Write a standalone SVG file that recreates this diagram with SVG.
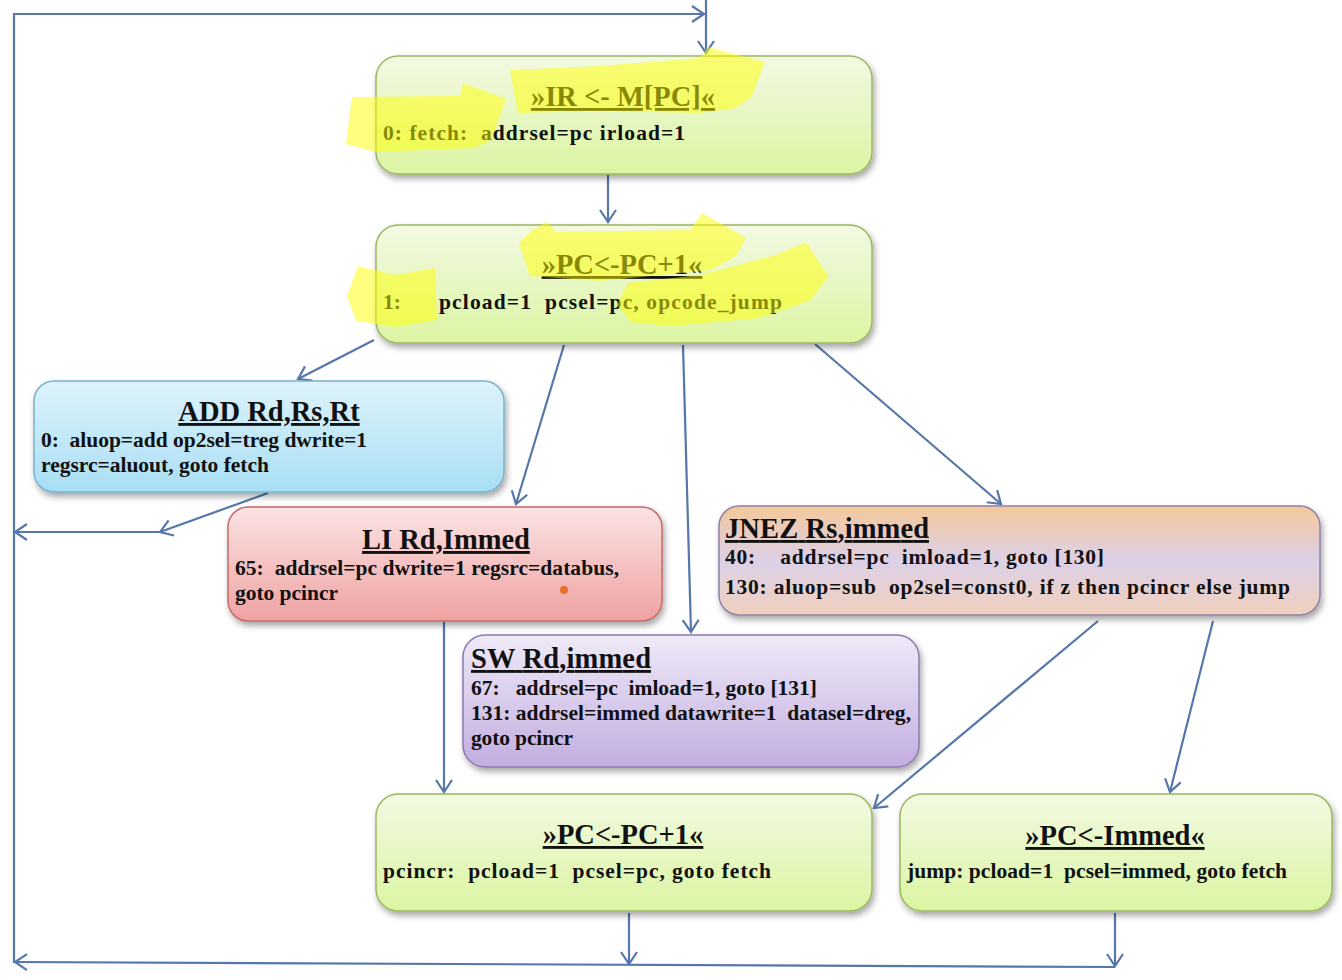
<svg xmlns="http://www.w3.org/2000/svg" width="1342" height="980" viewBox="0 0 1342 980">
<style>
.t{font-family:"Liberation Serif","Times New Roman",serif;font-weight:bold;fill:#111;white-space:pre}
.ti{font-size:28.5px;text-decoration:underline}
.b{font-size:21.5px}
.c{stroke:#5577aa;stroke-width:2.2;fill:none}
.hl{fill:#ffff00;opacity:0.5}
</style>
<defs>
<marker id="ah" markerUnits="userSpaceOnUse" markerWidth="16" markerHeight="20" refX="13" refY="9" orient="auto">
<path d="M1,1 L13,9 L1,17" fill="none" stroke="#5577aa" stroke-width="2.2"/>
</marker>
<filter id="sh" x="-10%" y="-10%" width="120%" height="130%">
<feDropShadow dx="2" dy="4" stdDeviation="3" flood-color="#000" flood-opacity="0.35"/>
</filter>
<linearGradient id="gG" x1="0" y1="0" x2="0" y2="1"><stop offset="0" stop-color="#f3f9e3"/><stop offset="1" stop-color="#dbf5a2"/></linearGradient>
<linearGradient id="gB" x1="0" y1="0" x2="0" y2="1"><stop offset="0" stop-color="#def3fb"/><stop offset="1" stop-color="#a8def4"/></linearGradient>
<linearGradient id="gR" x1="0" y1="0" x2="0" y2="1"><stop offset="0" stop-color="#fbe3e3"/><stop offset="1" stop-color="#efa2a2"/></linearGradient>
<linearGradient id="gO" x1="0" y1="0" x2="0" y2="1"><stop offset="0" stop-color="#f4c899"/><stop offset="0.5" stop-color="#dcd0e8"/><stop offset="1" stop-color="#f1d0bd"/></linearGradient>
<linearGradient id="gP" x1="0" y1="0" x2="0" y2="1"><stop offset="0" stop-color="#efeaf8"/><stop offset="1" stop-color="#c2ade0"/></linearGradient>
</defs>
<rect width="1342" height="980" fill="#fff"/>

<g id="connectors">
<polyline class="c" points="14,963 14,14 704,14" marker-end="url(#ah)"/>
<line class="c" x1="706" y1="0" x2="706" y2="53" marker-end="url(#ah)"/>
<line class="c" x1="608" y1="175" x2="608" y2="222" marker-end="url(#ah)"/>
<line class="c" x1="374" y1="340" x2="298" y2="379" marker-end="url(#ah)"/>
<line class="c" x1="564" y1="345" x2="516" y2="504" marker-end="url(#ah)"/>
<line class="c" x1="683" y1="345" x2="691" y2="632" marker-end="url(#ah)"/>
<line class="c" x1="815" y1="344" x2="1001" y2="504" marker-end="url(#ah)"/>
<line class="c" x1="268" y1="493" x2="160" y2="532" marker-end="url(#ah)"/>
<line class="c" x1="160" y1="532" x2="15" y2="532" marker-end="url(#ah)"/>
<line class="c" x1="444" y1="622" x2="444" y2="792" marker-end="url(#ah)"/>
<line class="c" x1="1098" y1="621" x2="874" y2="808" marker-end="url(#ah)"/>
<line class="c" x1="1213" y1="621" x2="1170" y2="792" marker-end="url(#ah)"/>
<line class="c" x1="629" y1="913" x2="629" y2="964" marker-end="url(#ah)"/>
<line class="c" x1="1115" y1="913" x2="1115" y2="966" marker-end="url(#ah)"/>
<line class="c" x1="1115" y1="967" x2="15" y2="962" marker-end="url(#ah)"/>
</g>

<g id="fetch">
<rect x="376" y="56" width="496" height="118" rx="22" fill="url(#gG)" stroke="#9cb760" stroke-width="1.5" filter="url(#sh)"/>
<text class="t ti" x="623" y="106" text-anchor="middle">»IR &lt;- M[PC]«</text>
<text class="t b" x="383" y="140" textLength="302">0: fetch:  addrsel=pc irload=1</text>
<path class="hl" d="M510,70 L600,66 L700,58 L708,47 L765,62 L752,96 L736,108 L700,113 L600,111 L518,113 Z"/>
<path class="hl" d="M352,97 L460,96 L463,83 L506,99 L491,140 L474,148 L376,152 L346,144 Z"/>
</g>

<g id="pcinc1">
<rect x="376" y="225" width="496" height="118" rx="22" fill="url(#gG)" stroke="#9cb760" stroke-width="1.5" filter="url(#sh)"/>
<text class="t ti" x="622" y="274" text-anchor="middle">»PC&lt;-PC+1«</text>
<text class="t b" x="383" y="309">1:</text>
<text class="t b" x="439" y="309" textLength="343">pcload=1  pcsel=pc, opcode_jump</text>
<path class="hl" d="M519,243 L531,231 L547,222 L556,232 L690,230 L702,213 L746,238 L736,256 L711,270 L600,281 L530,276 Z"/>
<path class="hl" d="M628,283 L700,275 L776,255 L806,242 L828,276 L811,300 L760,318 L670,326 L631,322 L617,305 Z"/>
<path class="hl" d="M358,266 L395,275 L435,268 L437,320 L396,327 L356,321 L347,296 Z"/>
</g>

<g id="add">
<rect x="34" y="381" width="470" height="111" rx="20" fill="url(#gB)" stroke="#7ab3c9" stroke-width="1.5" filter="url(#sh)"/>
<text class="t ti" x="269" y="421" text-anchor="middle">ADD Rd,Rs,Rt</text>
<text class="t b" x="41" y="447" textLength="326">0:  aluop=add op2sel=treg dwrite=1</text>
<text class="t b" x="41" y="472" textLength="228">regsrc=aluout, goto fetch</text>
</g>

<g id="li">
<rect x="228" y="507" width="434" height="114" rx="20" fill="url(#gR)" stroke="#c46a6a" stroke-width="1.5" filter="url(#sh)"/>
<text class="t ti" x="446" y="549" text-anchor="middle">LI Rd,Immed</text>
<text class="t b" x="235" y="575" textLength="384">65:  addrsel=pc dwrite=1 regsrc=databus,</text>
<text class="t b" x="235" y="600" textLength="103">goto pcincr</text>
<circle cx="564" cy="590" r="4" fill="#e8702a"/>
</g>

<g id="jnez">
<rect x="719" y="506" width="601" height="109" rx="20" fill="url(#gO)" stroke="#9080a8" stroke-width="1.5" filter="url(#sh)"/>
<text class="t ti" x="725" y="538" textLength="204">JNEZ Rs,immed</text>
<text class="t b" x="725" y="564" textLength="379">40:    addrsel=pc  imload=1, goto [130]</text>
<text class="t b" x="725" y="594" textLength="565">130: aluop=sub  op2sel=const0, if z then pcincr else jump</text>
</g>

<g id="sw">
<rect x="463" y="635" width="456" height="132" rx="22" fill="url(#gP)" stroke="#8c78b0" stroke-width="1.5" filter="url(#sh)"/>
<text class="t ti" x="471" y="668" textLength="180">SW Rd,immed</text>
<text class="t b" x="471" y="695" textLength="346">67:   addrsel=pc  imload=1, goto [131]</text>
<text class="t b" x="471" y="720" textLength="440">131: addrsel=immed datawrite=1  datasel=dreg,</text>
<text class="t b" x="471" y="745" textLength="102">goto pcincr</text>
</g>

<g id="pcincr">
<rect x="376" y="794" width="496" height="117" rx="22" fill="url(#gG)" stroke="#9cb760" stroke-width="1.5" filter="url(#sh)"/>
<text class="t ti" x="623" y="844" text-anchor="middle">»PC&lt;-PC+1«</text>
<text class="t b" x="383" y="878" textLength="388">pcincr:  pcload=1  pcsel=pc, goto fetch</text>
</g>

<g id="jump">
<rect x="900" y="794" width="432" height="117" rx="22" fill="url(#gG)" stroke="#9cb760" stroke-width="1.5" filter="url(#sh)"/>
<text class="t ti" x="1115" y="845" text-anchor="middle">»PC&lt;-Immed«</text>
<text class="t b" x="907" y="878" textLength="380">jump: pcload=1  pcsel=immed, goto fetch</text>
</g>
</svg>
